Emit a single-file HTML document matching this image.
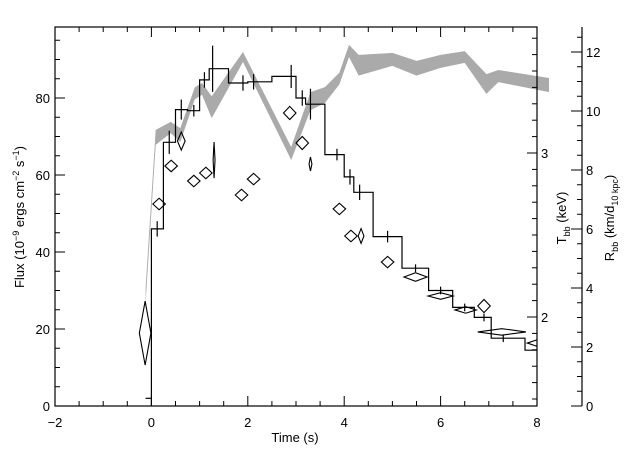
<!DOCTYPE html>
<html><head><meta charset="utf-8"><style>
body{margin:0;background:#fff}
svg text{font-family:"Liberation Sans",sans-serif;fill:#000}
</style></head><body>
<svg id="chart" width="640" height="457" viewBox="0 0 640 457" xmlns="http://www.w3.org/2000/svg">
<rect width="640" height="457" fill="#fff"/>
<defs><clipPath id="plotclip"><rect x="55" y="27" width="482" height="379"/></clipPath></defs>
<g id="band"></g>
<g id="hist" clip-path="url(#plotclip)"></g>
<g id="diam" clip-path="url(#plotclip)"></g>
<g id="axes"></g>
<text x="295" y="442" font-size="13" text-anchor="middle">Time (s)</text>
<text transform="translate(24,217) rotate(-90)" font-size="13" text-anchor="middle">Flux (10<tspan dy="-5" font-size="9">−9</tspan><tspan dy="5"> ergs cm</tspan><tspan dy="-5" font-size="9">−2</tspan><tspan dy="5"> s</tspan><tspan dy="-5" font-size="9">−1</tspan><tspan dy="5">)</tspan></text>
<text transform="translate(566,218) rotate(-90)" font-size="13" text-anchor="middle">T<tspan dy="4" font-size="9">bb</tspan><tspan dy="-4"> (keV)</tspan></text>
<text transform="translate(614,218) rotate(-90)" font-size="13" text-anchor="middle">R<tspan dy="4" font-size="9">bb</tspan><tspan dy="-4"> (km/d</tspan><tspan dy="4" font-size="9">10 kpc</tspan><tspan dy="-4">)</tspan></text>
</svg>
<script>
const histEdges=[0,0.25,0.5,0.75,1.0,1.2,1.6,2.0,2.5,3.0,3.2,3.6,4.0,4.2,4.6,5.2,5.75,6.25,6.7,7.05,7.75,8.0];
const histFlux=[46,68.5,77,76.7,84.7,87.6,83.9,84.2,85.6,80,78.4,65.3,59.5,55.5,44,35.8,30,25.6,23,17.6,14.5];
const errT=[0.12,0.37,0.62,0.88,1.1,1.27,1.9,2.12,2.9,3.13,3.3,3.85,4.12,4.32,4.9,5.48,6.0,6.5,6.9,7.3];
const errF=[46,68.5,77,76.7,84.7,87.6,83.9,84.2,85.6,80,78.4,65.3,59.5,55.5,44,35.8,30,25.6,23,17.6];
const errDF=[2,3,2.6,1.5,2,6,2,2,3,2,4,1.5,2,2,1.5,1,1,1,1,1];
const diaT=[-0.13,0.16,0.41,0.62,0.88,1.13,1.3,1.87,2.12,2.87,3.13,3.3,3.9,4.14,4.35,4.9,5.48,6.0,6.52,6.9,7.27,8.0];
const diaDt=[0.12,0.13,0.13,0.08,0.13,0.13,0.02,0.13,0.13,0.13,0.13,0.03,0.13,0.13,0.06,0.13,0.24,0.26,0.22,0.13,0.5,0.2];
const diaKeV=[1.902,2.689,2.921,3.073,2.829,2.878,2.957,2.744,2.841,3.244,3.061,2.933,2.659,2.494,2.494,2.335,2.244,2.128,2.043,2.067,1.909,1.841];
const diaDKeV=[0.195,0.035,0.035,0.055,0.035,0.035,0.11,0.035,0.035,0.04,0.04,0.043,0.035,0.035,0.045,0.035,0.026,0.02,0.02,0.04,0.02,0.02];
const bandT=[-0.12,0.09,0.4,0.6,0.9,1.05,1.25,1.9,2.9,3.3,3.6,3.9,4.1,4.3,5.0,5.5,6.0,6.5,6.95,7.2,8.25];
const bandHi=[4.0,9.36,9.63,9.42,10.8,10.95,10.5,12.0,8.78,10.64,10.81,11.3,12.24,11.9,11.97,11.7,11.9,12.03,11.25,11.39,11.12];
const bandLo=[3.5,8.85,9.25,8.95,10.4,10.55,9.76,11.66,8.34,10.03,10.27,10.9,11.83,11.2,11.53,11.2,11.46,11.63,10.58,10.98,10.64];
const xTicks=[-2,0,2,4,6,8];
const yTicks=[0,20,40,60,80];
const tempTicks=[2,3];
const radTicks=[0,2,4,6,8,10,12];

const X=t=>55+(t+2)*48.2;
const Y=f=>406-f*3.85;
const YT=k=>153-(k-3)*164;
const YR=r=>406-r*29.5;
const NS='http://www.w3.org/2000/svg';
function mk(tag,parent,attrs){const e=document.createElementNS(NS,tag);for(const k in attrs)e.setAttribute(k,attrs[k]);parent.appendChild(e);return e;}

const band=document.getElementById('band');
let pts=[];
for(let i=0;i<bandT.length;i++)pts.push(X(bandT[i]).toFixed(1)+','+YR(bandHi[i]).toFixed(1));
for(let i=bandT.length-1;i>=0;i--)pts.push(X(bandT[i]).toFixed(1)+','+YR(bandLo[i]).toFixed(1));
const bp=mk('polygon',band,{points:pts.join(' '),fill:'#aaaaaa',stroke:'none'});



const hist=document.getElementById('hist');
let d='M'+X(histEdges[0])+','+Y(0);
for(let i=0;i<histFlux.length;i++){d+=' L'+X(histEdges[i]).toFixed(1)+','+Y(histFlux[i]).toFixed(1)+' L'+X(histEdges[i+1]).toFixed(1)+','+Y(histFlux[i]).toFixed(1);}
const hp=mk('path',hist,{d:d,fill:'none',stroke:'#000','stroke-width':1.2});


for(let i=0;i<errT.length;i++){
  const l=mk('line',hist,{x1:X(errT[i]),x2:X(errT[i]),y1:Y(errF[i]-errDF[i]),y2:Y(errF[i]+errDF[i]),stroke:'#000','stroke-width':1.2});
  
  
}
const bl=mk('line',hist,{x1:X(-0.12),x2:X(0),y1:Y(2),y2:Y(2),stroke:'#000','stroke-width':1.2});



const diam=document.getElementById('diam');
for(let i=0;i<diaT.length;i++){
  const cx=X(diaT[i]),cy=YT(diaKeV[i]);
  const hw=Math.max(diaDt[i]*48.2,0.8),hh=diaDKeV[i]*164;
  const p=mk('polygon',diam,{points:`${cx-hw},${cy} ${cx},${cy-hh} ${cx+hw},${cy} ${cx},${cy+hh}`,fill:'none',stroke:'#000','stroke-width':1.1});
  
  
}

const ax=document.getElementById('axes');
const fr=mk('rect',ax,{x:55,y:27,width:482,height:379,fill:'none',stroke:'#000','stroke-width':1.2});


for(let t=-2;t<=8.001;t+=0.5){
  const maj=Math.abs(t-Math.round(t/2)*2)<0.01;const L=maj?10:5;
  mk('line',ax,{x1:X(t),x2:X(t),y1:406,y2:406-L,stroke:'#000'});
  mk('line',ax,{x1:X(t),x2:X(t),y1:27,y2:27+L,stroke:'#000'});
}
xTicks.forEach(v=>{const e=mk('text',ax,{x:X(v),y:427,'font-size':13,'text-anchor':'middle'});e.textContent=v<0?'−'+(-v):v;

});
for(let f=0;f<=95;f+=5){const L=f%20===0?10:5;mk('line',ax,{x1:55,x2:55+L,y1:Y(f),y2:Y(f),stroke:'#000'});}
yTicks.forEach(v=>{const e=mk('text',ax,{x:50,y:Y(v)+5,'font-size':13,'text-anchor':'end'});e.textContent=v;

});
for(let k=1.5;k<=3.75;k+=0.1){const L=(Math.abs(k-2)<0.01||Math.abs(k-3)<0.01)?10:5;mk('line',ax,{x1:537,x2:537-L,y1:YT(k),y2:YT(k),stroke:'#000'});}
tempTicks.forEach(v=>{const e=mk('text',ax,{x:541,y:YT(v)+5,'font-size':13});e.textContent=v;

});
const ra=mk('line',ax,{x1:582,x2:582,y1:27,y2:406,stroke:'#000','stroke-width':1.2});


for(let r=0;r<=12.8;r+=0.5){const L=Math.abs(r-Math.round(r/2)*2)<0.01?11:5;mk('line',ax,{x1:582,x2:582-L,y1:YR(r),y2:YR(r),stroke:'#000'});}
radTicks.forEach(v=>{const e=mk('text',ax,{x:586,y:YR(v)+5,'font-size':13});e.textContent=v;

});
</script>
</body></html>
